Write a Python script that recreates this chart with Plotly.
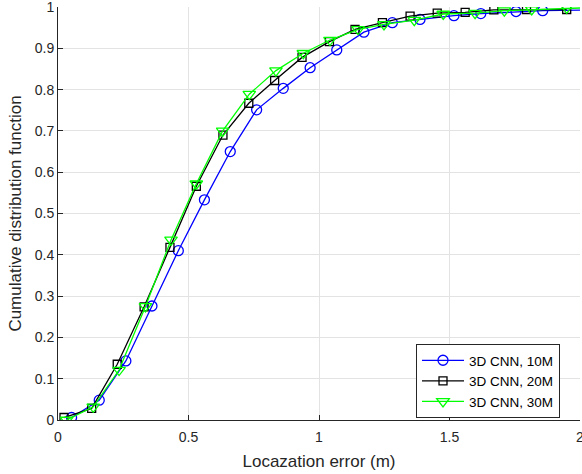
import plotly.graph_objects as go

# Data
x_10m = [0.052, 0.158, 0.26, 0.36, 0.461, 0.561, 0.66, 0.761, 0.863, 0.966, 1.068, 1.172, 1.281, 1.387, 1.517, 1.62, 1.755, 1.857, 2.06]
y_10m = [0.006, 0.048, 0.143, 0.276, 0.41, 0.533, 0.65, 0.751, 0.803, 0.853, 0.896, 0.939, 0.962, 0.970, 0.979, 0.984, 0.989, 0.991, 0.993]

x_20m = [0.023, 0.129, 0.227, 0.33, 0.429, 0.53, 0.632, 0.731, 0.83, 0.935, 1.04, 1.138, 1.243, 1.349, 1.453, 1.56, 1.67, 1.795, 1.949]
y_20m = [0.006, 0.028, 0.135, 0.274, 0.418, 0.566, 0.690, 0.767, 0.822, 0.878, 0.916, 0.946, 0.962, 0.978, 0.985, 0.987, 0.993, 0.994, 0.994]

x_30m = [0.033, 0.135, 0.234, 0.335, 0.433, 0.53, 0.631, 0.733, 0.835, 0.94, 1.042, 1.15, 1.249, 1.365, 1.476, 1.598, 1.71, 1.815, 1.949, 2.06]
y_30m = [0.0, 0.032, 0.121, 0.275, 0.436, 0.572, 0.70, 0.789, 0.846, 0.888, 0.92, 0.946, 0.958, 0.968, 0.983, 0.985, 0.991, 0.994, 0.998, 0.999]

series_names = ["3D CNN, 10M", "3D CNN, 20M", "3D CNN, 30M"]
x_ticks = [0, 0.5, 1, 1.5, 2]
x_tick_labels = ["0", "0.5", "1", "1.5", "2"]
y_ticks = [0, 0.1, 0.2, 0.3, 0.4, 0.5, 0.6, 0.7, 0.8, 0.9, 1]
y_tick_labels = ["0", "0.1", "0.2", "0.3", "0.4", "0.5", "0.6", "0.7", "0.8", "0.9", "1"]

FONT = "Liberation Sans, Arial, Helvetica, sans-serif"
AX = "#262626"

fig = go.Figure()
fig.add_trace(go.Scatter(x=x_10m, y=y_10m, mode="lines+markers", name=series_names[0],
                         line=dict(color="#0000ff", width=1.3),
                         marker=dict(symbol="circle-open", size=10, color="#0000ff", line=dict(width=1.3))))
fig.add_trace(go.Scatter(x=x_20m, y=y_20m, mode="lines+markers", name=series_names[1],
                         line=dict(color="#000000", width=1.3),
                         marker=dict(symbol="square-open", size=8, color="#000000", line=dict(width=1.3))))
fig.add_trace(go.Scatter(x=x_30m, y=y_30m, mode="lines+markers", name=series_names[2],
                         line=dict(color="#00ff00", width=1.3),
                         marker=dict(symbol="triangle-down-open", size=11, color="#00ff00", line=dict(width=1.3))))

fig.update_layout(
    width=582, height=474,
    margin=dict(l=58, r=2, t=7, b=54),
    paper_bgcolor="white", plot_bgcolor="white",
    font=dict(family=FONT, size=14, color=AX),
    showlegend=True,
    legend=dict(x=(416 - 58) / 522, y=(420 - 344) / 413, xanchor="left", yanchor="top",
                bgcolor="white", bordercolor=AX, borderwidth=1,
                font=dict(family=FONT, size=13.5, color="#000000"),
                itemwidth=42, tracegroupgap=0),
)
fig.update_xaxes(range=[0, 2], tickvals=x_ticks, ticktext=x_tick_labels, automargin=False,
                 ticklabeloverflow="allow", ticklabelstandoff=4,
                 showgrid=True, gridcolor="#e3e3e3", gridwidth=1,
                 showline=True, linecolor=AX, linewidth=1,
                 ticks="inside", ticklen=5, tickcolor=AX, zeroline=False,
                 tickfont=dict(family=FONT, size=14, color=AX),
                 title=dict(text="Locazation error (m)", font=dict(family=FONT, size=17, color=AX), standoff=11))
fig.update_yaxes(range=[0, 1], tickvals=y_ticks, ticktext=y_tick_labels, automargin=False,
                 ticklabeloverflow="allow",
                 showgrid=True, gridcolor="#e3e3e3", gridwidth=1,
                 showline=True, linecolor=AX, linewidth=1,
                 ticks="inside", ticklen=5, tickcolor=AX, zeroline=False,
                 tickfont=dict(family=FONT, size=14, color=AX),
                 title=dict(text="Cumulative distribution function", font=dict(family=FONT, size=17, color=AX), standoff=8))

fig.write_html("out.html", config={"displayModeBar": False},
               post_script="document.body.style.margin='0';document.body.style.overflow='hidden';")
